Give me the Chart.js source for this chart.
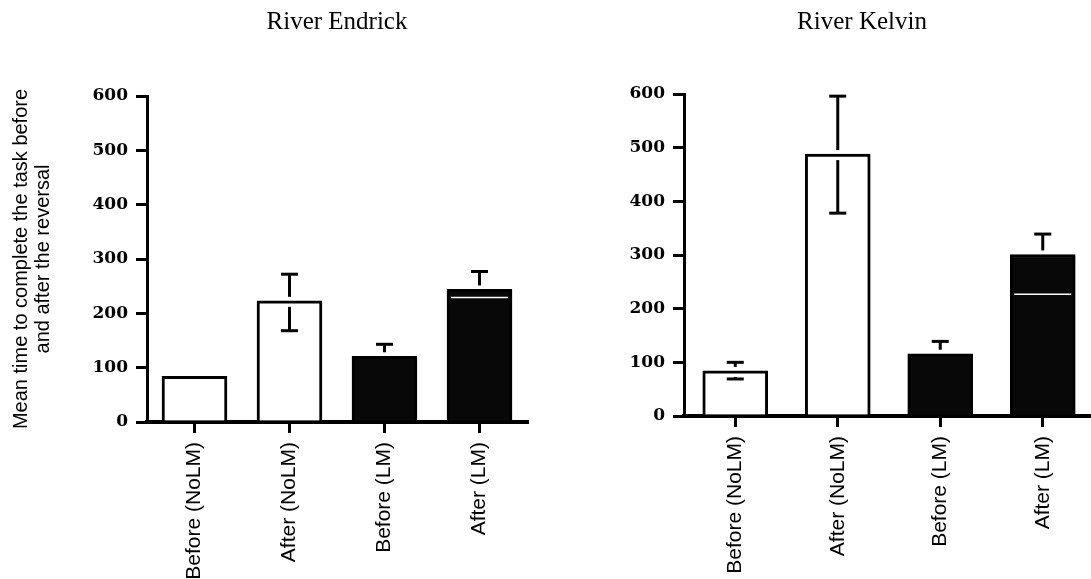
<!DOCTYPE html>
<html>
<head>
<meta charset="utf-8">
<script src="https://cdn.jsdelivr.net/npm/chart.js@4.4.0/dist/chart.umd.min.js"></script>
<style>
    html, body { margin: 0; padding: 0; background: #fff; overflow: hidden; }
    body { width: 1091px; height: 579px; position: relative; }
    canvas { position: absolute; top: 0; }
    #endrick { left: 0; }
    #kelvin { left: 630px; }
</style>
</head>
<body>
<canvas id="endrick" width="540" height="579"></canvas>
<canvas id="kelvin" width="470" height="579"></canvas>
<script>
    // categories shared by both panels
    var categories = ['Before (NoLM)', 'After (NoLM)', 'Before (LM)', 'After (LM)'];
    var yAxisTitle = ['Mean time to complete the task before', 'and after the reversal'];

    // River Endrick
    var endrickMeans = [84, 223, 121, 244];
    var endrickErrUp = [null, 272, 143, 277];
    var endrickErrDown = [null, 168, null, null];
    var endrickWhiteLine = [null, null, null, 229];

    // River Kelvin
    var kelvinMeans = [84, 488, 116, 301];
    var kelvinErrUp = [100, 596, 139, 339];
    var kelvinErrDown = [69, 378, null, null];
    var kelvinWhiteLine = [null, null, null, 227];

    var barFills = ['#ffffff', '#ffffff', '#080808', '#080808'];

    // error bars (gap left around the top of each bar, like the original) + white line in last bar
    var errorBarPlugin = {
        id: 'errorBars',
        afterDatasetsDraw: function (chart, args, opts) {
            var ctx = chart.ctx;
            var yScale = chart.scales.y;
            var bars = chart.getDatasetMeta(0).data;
            var halfCap = 8.5;

            function seg(x1, y1, x2, y2) {
                ctx.beginPath();
                ctx.moveTo(x1, y1);
                ctx.lineTo(x2, y2);
                ctx.stroke();
            }

            ctx.save();
            ctx.lineCap = 'butt';
            bars.forEach(function (bar, i) {
                ctx.strokeStyle = '#000';
                ctx.lineWidth = 3;
                if (opts.up[i] != null) {
                    var yUp = yScale.getPixelForValue(opts.up[i]);
                    seg(bar.x, yUp, bar.x, bar.y - 4);
                    seg(bar.x - halfCap, yUp, bar.x + halfCap, yUp);
                }
                if (opts.down[i] != null) {
                    var yDown = yScale.getPixelForValue(opts.down[i]);
                    seg(bar.x, bar.y + 6, bar.x, yDown);
                    seg(bar.x - halfCap, yDown, bar.x + halfCap, yDown);
                }
                if (opts.line[i] != null) {
                    var yl = yScale.getPixelForValue(opts.line[i]);
                    ctx.strokeStyle = '#ffffff';
                    ctx.lineWidth = 1.5;
                    seg(bar.x - bar.width / 2 + 4, yl, bar.x + bar.width / 2 - 4, yl);
                }
            });
            ctx.restore();
        }
    };

    function drawPanel(canvasId, title, means, errUp, errDown, whiteLine, layout) {
        var yOptions = {
            min: 0,
            max: 600,
            grid: { display: true, drawOnChartArea: false, tickLength: 11, lineWidth: 3, color: '#000' },
            border: { display: true, color: '#000', width: 3 },
            ticks: {
                stepSize: 100,
                color: '#000',
                padding: 8,
                font: { family: 'DejaVu Serif', size: 17, weight: 'bold' }
            },
            afterFit: function (scale) { scale.width = layout.yWidth; }
        };
        if (layout.showYTitle) {
            yOptions.title = {
                display: true,
                text: yAxisTitle,
                color: '#000',
                font: { family: 'Liberation Sans', size: 20, lineHeight: 1.1 },
                padding: { top: 10, bottom: 0 }
            };
        }

        return new Chart(document.getElementById(canvasId), {
            type: 'bar',
            data: {
                labels: categories,
                datasets: [{
                    data: means,
                    backgroundColor: barFills,
                    borderColor: '#000',
                    borderWidth: 3,
                    barThickness: 65
                }]
            },
            options: {
                responsive: false,
                animation: false,
                devicePixelRatio: 1,
                layout: { padding: { left: 0, right: layout.padRight, top: 0, bottom: 0 } },
                plugins: {
                    legend: { display: false },
                    tooltip: { enabled: false },
                    title: {
                        display: true,
                        text: title,
                        fullSize: layout.titleFull,
                        color: '#000',
                        font: { family: 'Liberation Serif', size: 25, weight: 'normal' },
                        padding: { top: 7, bottom: layout.titleBottom }
                    },
                    errorBars: { up: errUp, down: errDown, line: whiteLine }
                },
                scales: {
                    x: {
                        z: 1,
                        grid: { display: true, drawOnChartArea: false, offset: false, tickLength: 11, lineWidth: 3, color: '#000' },
                        // 4px so the axis also covers the half grid-width Chart.js leaves under each bar
                        border: { display: true, color: '#000', width: 4 },
                        ticks: {
                            color: '#000',
                            autoSkip: false,
                            minRotation: 90,
                            maxRotation: 90,
                            padding: 9,
                            font: { family: 'Liberation Sans', size: 21 }
                        },
                        afterFit: function (scale) { scale.height = layout.xHeight; }
                    },
                    y: yOptions
                }
            },
            plugins: [errorBarPlugin]
        });
    }

    drawPanel('endrick', 'River Endrick', endrickMeans, endrickErrUp, endrickErrDown, endrickWhiteLine,
        { yWidth: 147, xHeight: 157, padRight: 13, titleFull: false, titleBottom: 59, showYTitle: true });

    drawPanel('kelvin', 'River Kelvin', kelvinMeans, kelvinErrUp, kelvinErrDown, kelvinWhiteLine,
        { yWidth: 54, xHeight: 163, padRight: 6, titleFull: true, titleBottom: 57, showYTitle: false });
</script>
</body>
</html>
